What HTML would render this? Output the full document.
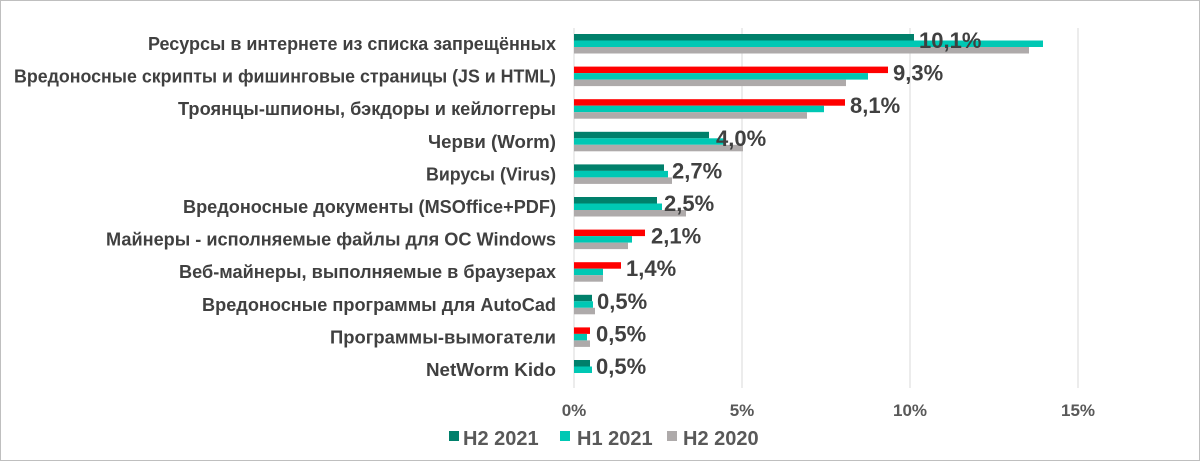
<!DOCTYPE html>
<html><head><meta charset="utf-8"><style>
body{margin:0;background:#fff}
svg text{font-family:"Liberation Sans","DejaVu Sans",sans-serif}
</style></head><body>
<svg width="1200" height="461" xmlns="http://www.w3.org/2000/svg">
<rect x="0.5" y="0.5" width="1199" height="460" fill="#fff" stroke="#bfbfbf"/>
<g stroke="#d9d9d9" stroke-width="1">
<line x1="574" y1="28" x2="574" y2="388"/>
<line x1="742" y1="28" x2="742" y2="388"/>
<line x1="910" y1="28" x2="910" y2="388"/>
<line x1="1078" y1="28" x2="1078" y2="388"/>
</g>
<g id="bars"></g>
<g font-size="18" fill="#404040" font-weight="bold" id="cats"></g>
<g font-size="22" fill="#404040" font-weight="bold" id="vals"></g>
<g font-size="17" fill="#595959" text-anchor="middle" font-weight="bold">
<text x="574" y="416">0%</text><text x="742" y="416">5%</text><text x="910" y="416">10%</text><text x="1078" y="416">15%</text>
</g>
<g font-size="20" fill="#595959" font-weight="bold">
<rect x="449" y="431" width="10" height="10" fill="#00806b"/><text x="463" y="445">H2 2021</text>
<rect x="560" y="431" width="10" height="10" fill="#00c8b4"/><text x="577" y="445">H1 2021</text>
<rect x="667" y="431" width="10" height="10" fill="#aeaaaa"/><text x="683" y="445">H2 2020</text>
</g>
<script>
var rows=[
["Ресурсы в интернете из списка запрещённых","10,1%",0,340,469,455,919,148],
["Вредоносные скрипты и фишинговые страницы (JS и HTML)","9,3%",1,314,294,272,893,14],
["Троянцы-шпионы, бэкдоры и кейлоггеры","8,1%",1,271,250,233,850,178],
["Черви (Worm)","4,0%",0,135,150,169,716,428],
["Вирусы (Virus)","2,7%",0,90,94,98,672,426],
["Вредоносные документы (MSOffice+PDF)","2,5%",0,83,88,112,664,183],
["Майнеры - исполняемые файлы для ОС Windows","2,1%",1,71,58,54,651,106],
["Веб-майнеры, выполняемые в браузерах","1,4%",1,47,29,29,626,179],
["Вредоносные программы для AutoCad","0,5%",0,18,19,21,597,202],
["Программы-вымогатели","0,5%",1,16,13,16,596,330],
["NetWorm Kido","0,5%",0,16,18,0,596,426]];
var ns="http://www.w3.org/2000/svg";
function el(p,t,a,txt){var e=document.createElementNS(ns,t);for(var k in a)e.setAttribute(k,a[k]);if(txt)e.textContent=txt;document.getElementById(p).appendChild(e);}
rows.forEach(function(r,i){var y=34+32.6*i;
var cols=[r[2]?"#ff0000":"#00806b","#00c8b4","#aeaaaa"];
for(var j=0;j<3;j++){if(r[3+j]>0)el("bars","rect",{x:574,y:y+j*6.5,width:r[3+j],height:6.5,fill:cols[j]});}
el("cats","text",{x:r[7],y:y+16,textLength:556-r[7],lengthAdjust:"spacingAndGlyphs"},r[0]);
el("vals","text",{x:r[6],y:y+14},r[1]);
});
</script>
</svg>
</body></html>
